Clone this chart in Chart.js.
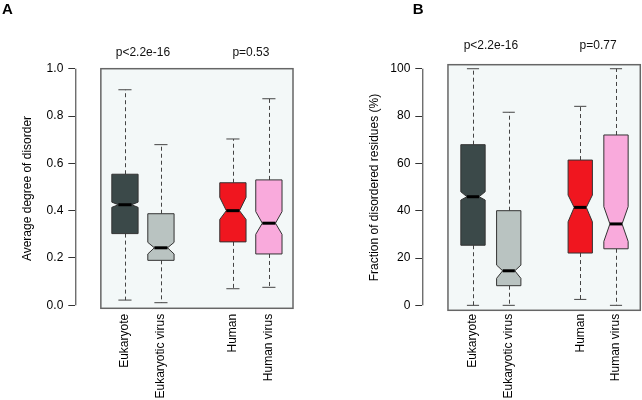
<!DOCTYPE html>
<html>
<head>
<meta charset="utf-8">
<script src="https://cdn.jsdelivr.net/npm/chart.js"></script>
<style>
body{margin:0;background:#fff;width:642px;height:400px;position:relative;overflow:hidden}
.panel{position:absolute;top:0;width:321px;height:400px}
</style>
</head>
<body>
<div class="panel" style="left:0"><canvas id="chartA" width="321" height="400"></canvas></div>
<div class="panel" style="left:321px"><canvas id="chartB" width="321" height="400"></canvas></div>
<script>
// shared categories
const categories = ['Eukaryote', 'Eukaryotic virus', 'Human', 'Human virus']
const positions = [1, 2, 4, 5]
const colors = ['#3b4949', '#b9c3c1', '#f0161f', '#f9aadc']

// panel A: average degree of disorder
const aWhiskerLow  = [0.022, 0.011, 0.070, 0.076]
const aQ1          = [0.303, 0.190, 0.268, 0.217]
const aNotchLow    = [0.414, 0.217, 0.363, 0.300]
const aMedian      = [0.425, 0.243, 0.400, 0.347]
const aNotchHigh   = [0.436, 0.266, 0.456, 0.396]
const aQ3          = [0.554, 0.387, 0.518, 0.530]
const aWhiskerHigh = [0.911, 0.679, 0.703, 0.873]
const aTicks = [0, 0.2, 0.4, 0.6, 0.8, 1.0]
const aPvalues = ['p<2.2e-16', 'p=0.53']

// panel B: fraction of disordered residues (%)
const bWhiskerLow  = [0, 0, 2.5, 0]
const bQ1          = [25.4, 8.3, 22.1, 23.9]
const bNotchLow    = [44.5, 11.4, 35.3, 27.0]
const bMedian      = [45.9, 14.6, 41.4, 34.4]
const bNotchHigh   = [48.0, 17.0, 46.6, 41.7]
const bQ3          = [67.9, 40.0, 61.4, 72.0]
const bWhiskerHigh = [100, 81.6, 84.1, 100]
const bTicks = [0, 20, 40, 60, 80, 100]
const bPvalues = ['p<2.2e-16', 'p=0.77']

const pvalueAt = [1.5, 4.5]

Chart.defaults.font.family = '"Liberation Sans", Arial, sans-serif'
Chart.defaults.font.size = 12
Chart.defaults.color = '#000'

const boxPlotPlugin = {
  id: 'boxplots',
  beforeDraw(chart, args, o){
    const {ctx, chartArea, scales: {x, y}} = chart
    const left = x.getPixelForValue(o.frameLeft)
    ctx.save()
    ctx.fillStyle = '#f3f8f8'
    ctx.fillRect(left, chartArea.top, chartArea.right - left, chartArea.bottom - chartArea.top)
    ctx.restore()
  },
  afterDatasetsDraw(chart, args, o){
    const {ctx, chartArea, scales: {x, y}} = chart
    const b = o.box
    ctx.save()
    for(let i = 0; i < positions.length; i++){
      const cx = x.getPixelForValue(positions[i])
      const half = (x.getPixelForValue(positions[i] + o.width / 2) - x.getPixelForValue(positions[i] - o.width / 2)) / 2
      const yLo = y.getPixelForValue(b.lo[i]), yQ1 = y.getPixelForValue(b.q1[i])
      const yNl = y.getPixelForValue(b.nlo[i]), yMed = y.getPixelForValue(b.med[i])
      const yNh = y.getPixelForValue(b.nhi[i]), yQ3 = y.getPixelForValue(b.q3[i])
      const yHi = y.getPixelForValue(b.hi[i])
      const cx0 = Math.round(cx) + 0.5
      // whiskers
      ctx.strokeStyle = '#444'
      ctx.lineWidth = 1
      ctx.setLineDash([4, 3])
      ctx.beginPath()
      ctx.moveTo(cx0, yQ3); ctx.lineTo(cx0, yHi)
      ctx.moveTo(cx0, yQ1); ctx.lineTo(cx0, yLo)
      ctx.stroke()
      ctx.setLineDash([])
      ctx.beginPath()
      ctx.moveTo(cx - half / 2, yHi); ctx.lineTo(cx + half / 2, yHi)
      ctx.moveTo(cx - half / 2, yLo); ctx.lineTo(cx + half / 2, yLo)
      ctx.stroke()
      // notched box
      ctx.beginPath()
      ctx.moveTo(cx - half, yQ3)
      ctx.lineTo(cx + half, yQ3)
      ctx.lineTo(cx + half, yNh)
      ctx.lineTo(cx + half / 2, yMed)
      ctx.lineTo(cx + half, yNl)
      ctx.lineTo(cx + half, yQ1)
      ctx.lineTo(cx - half, yQ1)
      ctx.lineTo(cx - half, yNl)
      ctx.lineTo(cx - half / 2, yMed)
      ctx.lineTo(cx - half, yNh)
      ctx.closePath()
      ctx.fillStyle = colors[i]
      ctx.fill()
      ctx.strokeStyle = '#333'
      ctx.stroke()
      // median
      ctx.lineWidth = 3
      ctx.strokeStyle = '#000'
      ctx.beginPath()
      ctx.moveTo(cx - half / 2, yMed); ctx.lineTo(cx + half / 2, yMed)
      ctx.stroke()
    }
    ctx.restore()
  },
  afterDraw(chart, args, o){
    const {ctx, chartArea, scales: {x, y}} = chart
    ctx.save()
    // frame
    const left = x.getPixelForValue(o.frameLeft)
    ctx.strokeStyle = '#666'
    ctx.lineWidth = 1.5
    ctx.strokeRect(left, chartArea.top, chartArea.right - left, chartArea.bottom - chartArea.top)
    // y axis line
    ctx.strokeStyle = '#333'
    ctx.lineWidth = 1
    ctx.beginPath()
    ctx.moveTo(chartArea.left + 0.5, y.getPixelForValue(o.yFrom))
    ctx.lineTo(chartArea.left + 0.5, y.getPixelForValue(o.yTo))
    ctx.stroke()
    // p values
    ctx.fillStyle = '#111'
    ctx.font = '12px "Liberation Sans", Arial, sans-serif'
    ctx.textAlign = 'center'
    ctx.textBaseline = 'middle'
    o.pvalues.forEach((t, k) => ctx.fillText(t, x.getPixelForValue(pvalueAt[k]), o.pY))
    // panel letter
    ctx.font = 'bold 15px "Liberation Sans", Arial, sans-serif'
    ctx.textAlign = 'left'
    ctx.textBaseline = 'alphabetic'
    ctx.fillStyle = '#000'
    ctx.fillText(o.letter, o.letterX, 14)
    ctx.restore()
  }
}

function makePanel(id, cfg){
  return new Chart(document.getElementById(id), {
    type: 'scatter',
    data: {datasets: [{data: [], pointRadius: 0}]},
    plugins: [boxPlotPlugin],
    options: {
      responsive: false,
      animation: false,
      devicePixelRatio: 1,
      layout: {padding: cfg.padding},
      plugins: {
        legend: {display: false},
        tooltip: {enabled: false},
        boxplots: cfg.plugin
      },
      scales: {
        x: {
          type: 'linear',
          min: cfg.xMin,
          max: cfg.xMax,
          afterBuildTicks: a => { a.ticks = positions.map(v => ({value: v})) },
          afterFit: s => { s.height = cfg.xHeight },
          grid: {display: false, drawTicks: false},
          border: {display: false},
          ticks: {
            autoSkip: false,
            minRotation: 90,
            maxRotation: 90,
            padding: cfg.labelPad,
            callback: v => categories[positions.indexOf(v)]
          }
        },
        y: {
          min: cfg.yMin,
          max: cfg.yMax,
          afterBuildTicks: a => { a.ticks = cfg.ticks.map(v => ({value: v})) },
          afterFit: s => { s.width = 55.3 },
          grid: {drawOnChartArea: false, drawTicks: true, tickLength: 7, color: '#333'},
          border: {display: false},
          ticks: {padding: 5, callback: cfg.tickFormat},
          title: {display: true, text: cfg.title, padding: 0}
        }
      }
    }
  })
}

makePanel('chartA', {
  padding: {left: 20, top: 68.7, right: 28, bottom: 0},
  xHeight: 91.7,
  labelPad: 5.5,
  xMin: -0.38, xMax: 5.67,
  yMin: -0.0127, yMax: 1.0,
  ticks: aTicks,
  tickFormat: v => v.toFixed(1),
  title: 'Average degree of disorder',
  plugin: {
    frameLeft: 0.33, width: 0.73, yFrom: 0, yTo: 1,
    pvalues: aPvalues, pY: 53, letter: 'A', letterX: 2,
    box: {lo: aWhiskerLow, q1: aQ1, nlo: aNotchLow, med: aMedian, nhi: aNotchHigh, q3: aQ3, hi: aWhiskerHigh}
  }
})

makePanel('chartB', {
  padding: {left: 46, top: 64.7, right: 1.7, bottom: 0},
  xHeight: 89.7,
  labelPad: 3.5,
  xMin: -0.418, xMax: 5.68,
  yMin: -2.1, yMax: 101.7,
  ticks: bTicks,
  tickFormat: v => String(v),
  title: 'Fraction of disordered residues (%)',
  plugin: {
    frameLeft: 0.3, width: 0.68, yFrom: 0, yTo: 100,
    pvalues: bPvalues, pY: 46, letter: 'B', letterX: 91.7,
    box: {lo: bWhiskerLow, q1: bQ1, nlo: bNotchLow, med: bMedian, nhi: bNotchHigh, q3: bQ3, hi: bWhiskerHigh}
  }
})
</script>
</body>
</html>
